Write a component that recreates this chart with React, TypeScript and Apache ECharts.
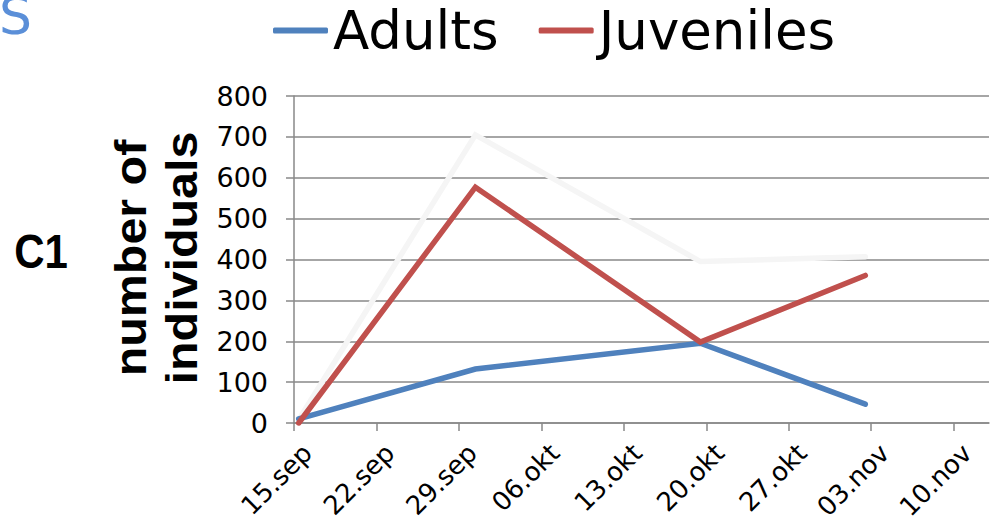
import React, { useEffect, useRef } from "react";
import * as echarts from "echarts";

// Days after 15 September at which counts were taken
const sampleDays = [0.4, 15.4, 34.5, 48.5];
const adults = [10, 132, 195, 46];
const juveniles = [0, 577, 198, 361];
const total = [8, 705, 395, 407];
const tickDays = [0, 7, 14, 21, 28, 35, 42, 49, 56];
const tickLabels = ["15.sep", "22.sep", "29.sep", "06.okt", "13.okt", "20.okt", "27.okt", "03.nov", "10.nov"];
const yTicks = { min: 0, max: 800, step: 100 };

const pairs = (xs: number[], ys: number[]) => xs.map((x, i) => [x, ys[i]]);

export default function App() {
  const ref = useRef<HTMLDivElement>(null);
  useEffect(() => {
    if (!ref.current) return;
    const chart = echarts.init(ref.current, null, { renderer: "svg" });
    const gridColor = "#898989";
    const lineBase = { type: "line", showSymbol: false, symbol: "none", smooth: false };
    chart.setOption({
      animation: false,
      backgroundColor: "#ffffff",
      grid: { left: 294, right: 9, top: 96, bottom: 104, containLabel: false, outerBoundsMode: "none" },
      legend: {
        data: ["Adults", "Juveniles"],
        left: 268,
        top: -1,
        icon: "roundRect",
        itemWidth: 55,
        itemHeight: 6,
        itemGap: 40,
        textStyle: { fontSize: 53, fontFamily: "DejaVu Sans", color: "#000" },
      },
      xAxis: {
        type: "value",
        min: 0,
        max: 59,
        axisLine: { show: true, lineStyle: { color: gridColor, width: 1.5 } },
        axisTick: { show: true, length: 8, lineStyle: { color: gridColor, width: 1.5 }, customValues: tickDays },
        axisLabel: {
          customValues: tickDays,
          rotate: 45,
          margin: 12,
          fontSize: 26,
          fontFamily: "DejaVu Sans",
          color: "#000",
          verticalAlign: "top",
          padding: [6, 0, 0, 0],
          formatter: (v: number) => {
            const i = tickDays.indexOf(Math.round(v));
            return i >= 0 ? tickLabels[i] : "";
          },
        },
        splitLine: { show: false },
      },
      yAxis: {
        type: "value",
        min: yTicks.min,
        max: yTicks.max,
        interval: yTicks.step,
        axisLine: { show: true, lineStyle: { color: gridColor, width: 1.5 } },
        axisTick: { show: true, length: 8, lineStyle: { color: gridColor, width: 1.5 } },
        axisLabel: { fontSize: 27, fontFamily: "DejaVu Sans", color: "#000", margin: 26 },
        splitLine: { show: true, lineStyle: { color: gridColor, width: 1.5 } },
      },
      series: [
        {
          ...lineBase,
          name: "Total",
          data: pairs(sampleDays, total),
          lineStyle: { color: "#f5f5f5", width: 5.5, cap: "round", join: "miter" },
          itemStyle: { color: "#f5f5f5" },
          z: 2,
        },
        {
          ...lineBase,
          name: "Adults",
          data: pairs(sampleDays, adults),
          lineStyle: { color: "#4f81bd", width: 5.5, cap: "round", join: "miter" },
          itemStyle: { color: "#4f81bd" },
          z: 3,
        },
        {
          ...lineBase,
          name: "Juveniles",
          data: pairs(sampleDays, juveniles),
          lineStyle: { color: "#c0504d", width: 5.5, cap: "round", join: "miter" },
          itemStyle: { color: "#c0504d" },
          z: 4,
        },
      ],
      graphic: [
        {
          type: "text",
          x: -1,
          y: 42,
          style: { text: "S", fontSize: 52, fontFamily: "DejaVu Sans", fill: "#5b8fd8", textVerticalAlign: "bottom" },
        },
        {
          type: "text",
          x: 41,
          y: 251,
          scaleY: 1.15,
          style: {
            text: "C1",
            fontSize: 42,
            fontWeight: "bold",
            fontFamily: "Liberation Sans",
            fill: "#000",
            textAlign: "center",
            textVerticalAlign: "middle",
          },
        },
        {
          type: "text",
          x: 156,
          y: 258,
          rotation: Math.PI / 2,
          scaleX: 1.1,
          style: {
            text: "number of\nindividuals",
            fontSize: 44,
            lineHeight: 51,
            fontWeight: "bold",
            fontFamily: "Liberation Sans",
            fill: "#000",
            textAlign: "center",
            textVerticalAlign: "middle",
          },
        },
      ],
    });
    return () => chart.dispose();
  }, []);
  return <div ref={ref} style={{ position: "absolute", left: 0, top: 0, width: 998, height: 527 }} />;
}
